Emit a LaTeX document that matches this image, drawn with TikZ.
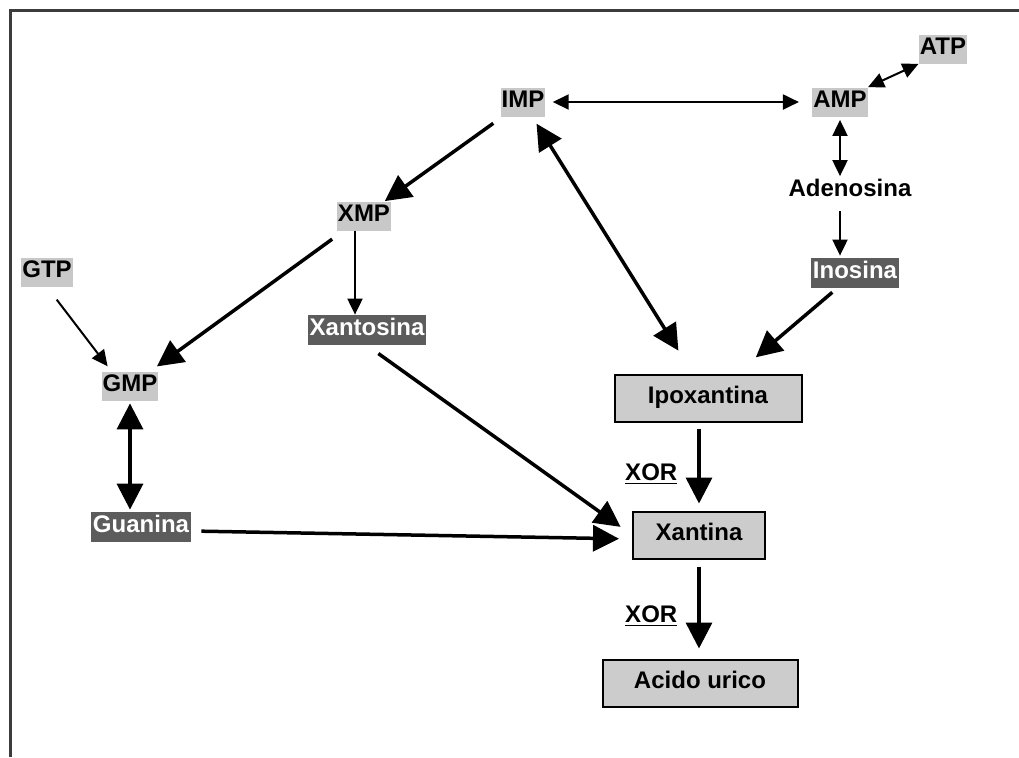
\documentclass[tikz,border=0pt]{standalone}
\usepackage{fontspec}
\setmainfont{Liberation Sans}
\usetikzlibrary{arrows.meta}

\definecolor{pillgray}{RGB}{200,200,200}
\definecolor{tagdark}{RGB}{92,92,92}
\definecolor{boxgray}{RGB}{204,204,204}
\definecolor{framegray}{RGB}{60,60,60}

\tikzset{
  smalltip/.tip={Triangle[length=8pt,width=7.5pt]},
  bigtip/.tip={Triangle[length=13pt,width=13pt]},
}

\begin{document}
\begin{tikzpicture}[x=0.5pt, y=-0.5pt,
  every node/.style={font=\fontsize{12}{14}\selectfont\bfseries, text height=9pt, text depth=3.5pt},
  light/.style={fill=pillgray, inner xsep=0.5pt, inner ysep=1pt},
  dark/.style={fill=tagdark, text=white, inner xsep=1pt, inner ysep=1.25pt},
  plain/.style={inner sep=1pt},
  boxed/.style={draw, fill=boxgray, line width=1pt, minimum height=23.5pt},
  weak/.style={line width=1pt},
  strong/.style={line width=1.75pt}]
  \useasboundingbox (0,0) rectangle (1019,757);
  \draw[line width=1.5pt, framegray] (1019,10) -- (10,10) -- (10,757);

  \node[light] (ATP) at (943,49) {ATP};
  \node[light] (AMP) at (840,102) {AMP};
  \node[light] (IMP) at (523,102) {IMP};
  \node[plain] (Adenosina) at (850,191) {Adenosina};
  \node[dark] (Inosina) at (855,273) {Inosina};
  \node[light] (XMP) at (364,216) {XMP};
  \node[dark] (Xantosina) at (367,330) {Xantosina};
  \node[light] (GTP) at (47,272) {GTP};
  \node[light] (GMP) at (130,386) {GMP};
  \node[dark] (Guanina) at (141,527) {Guanina};
  \node[boxed, minimum width=93.5pt] (Ipoxantina) at (708,398) {Ipoxantina};
  \node[boxed, minimum width=66pt] (Xantina) at (699,535) {Xantina};
  \node[boxed, minimum width=97.5pt] (Acido) at (700,683) {Acido urico};

  \draw[weak, smalltip-smalltip, shorten <=3.5pt, shorten >=6.5pt] (IMP) -- (AMP);
  \draw[weak, smalltip-smalltip] (AMP.north east) -- (ATP.south west);
  \draw[weak, smalltip-smalltip, shorten <=1.5pt] (AMP.south) -- (AMP.south |- Adenosina.north);
  \draw[weak, -smalltip, shorten <=2.5pt, shorten >=1pt] (AMP.south |- Adenosina.south) -- (AMP.south |- Inosina.north);
  \draw[strong, -bigtip, shorten <=3pt, shorten >=12.5pt] (Inosina) -- (Ipoxantina);
  \draw[strong, bigtip-bigtip, shorten <=4pt, shorten >=13.5pt] (IMP) -- (Ipoxantina);
  \draw[strong, -bigtip, shorten <=5.5pt] (IMP) -- (XMP);
  \draw[strong, -bigtip, shorten <=7pt, shorten >=4pt] (XMP) -- (GMP);
  \draw[weak, -smalltip] ([xshift=-4.5pt]XMP.south) -- ([xshift=-4.5pt]XMP.south |- Xantosina.north);
  \draw[weak, -smalltip, shorten <=8pt, shorten >=3pt] (GTP.south) -- ([xshift=5pt]GMP.north west);
  \draw[strong, bigtip-bigtip, shorten <=1.25pt, shorten >=1pt] (GMP.south) -- (GMP.south |- Guanina.north);
  \draw[strong, -bigtip, shorten <=5pt, shorten >=6.5pt] ([yshift=-2pt]Guanina.east) -- ([yshift=-2pt]Xantina.west);
  \draw[strong, -bigtip, shorten <=7pt, shorten >=7pt] (Xantosina.south) -- (Xantina.west);
  \draw[strong, -bigtip, shorten <=3pt, shorten >=3.5pt] (Xantina.north |- Ipoxantina.south) -- (Xantina.north)
    node[plain, pos=0.6, left=9pt] {\underline{XOR}};
  \draw[strong, -bigtip, shorten <=3.5pt, shorten >=5pt] (Xantina.south) -- (Xantina.south |- Acido.north)
    node[plain, pos=0.58, left=9pt] {\underline{XOR}};
\end{tikzpicture}
\end{document}
